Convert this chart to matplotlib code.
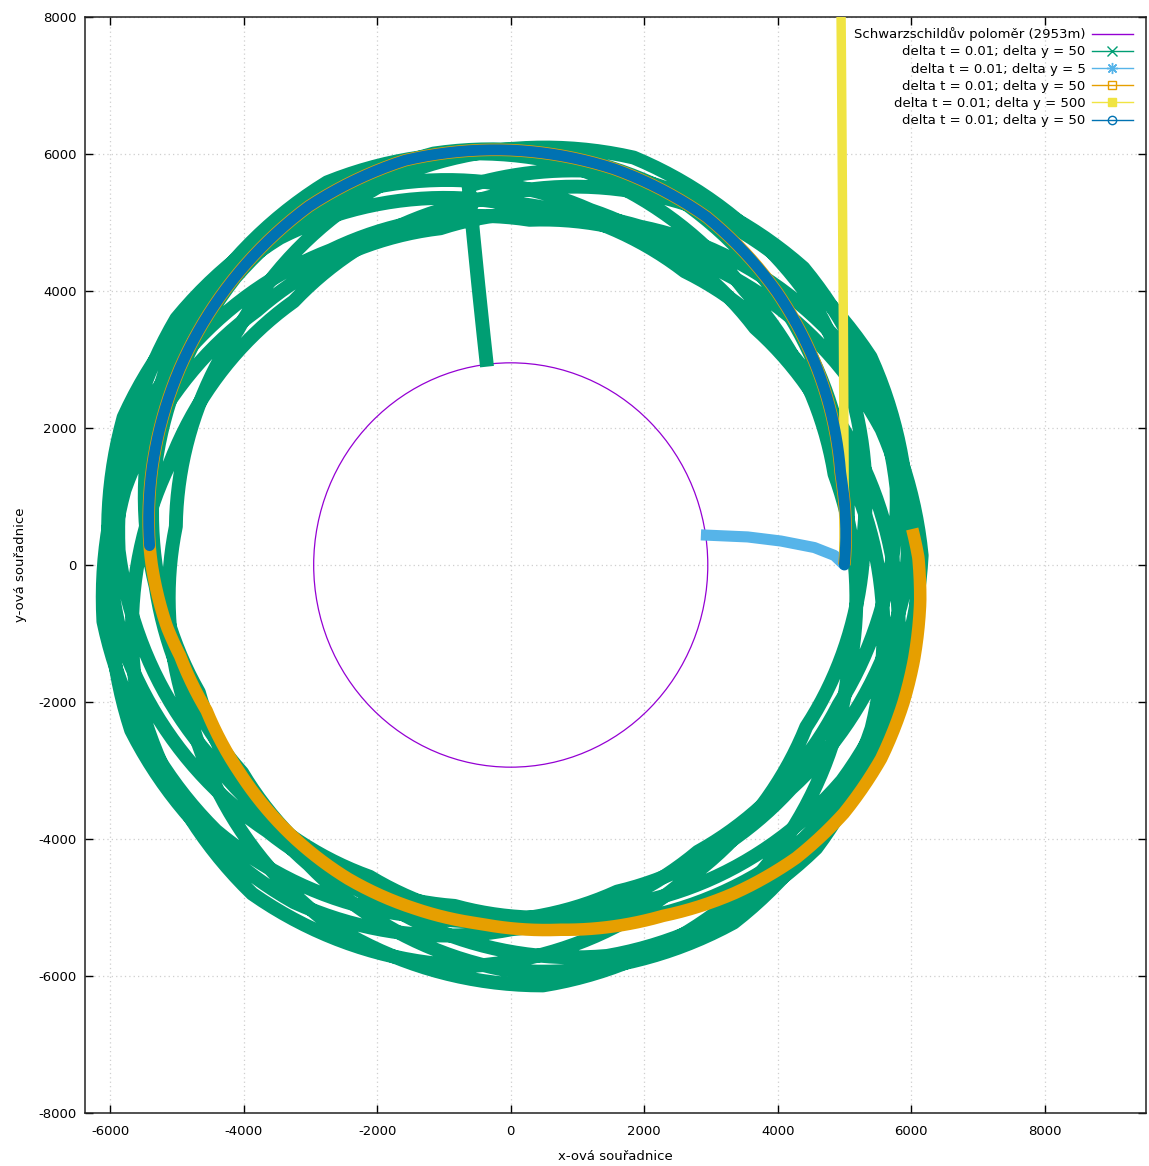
import numpy as np
import matplotlib.pyplot as plt
from matplotlib.patches import Circle, PathPatch
from matplotlib.path import Path
from matplotlib.lines import Line2D
from matplotlib.projections.polar import PolarAxes

# Schwarzschild radius [m]
r_s = 2953

# long run (delta y = 50): turning points and midpoints of the orbit,
# angle [deg, cumulative] and radius [m]; last two points = fall into the hole
green_angle = [0, 33.6, 67.2, 100.9, 134.5, 168.1, 201.7, 235.3, 268.9, 302.6, 336.2,
               369.8, 403.4, 437.0, 470.6, 504.3, 537.9, 571.5, 605.1, 638.7, 672.3,
               706.0, 739.6, 773.2, 806.8, 840.4, 874.0, 907.7, 941.3, 974.9, 1008.5,
               1042.1, 1075.7, 1109.4, 1143.0, 1176.6, 1210.2, 1243.8, 1277.4, 1311.1,
               1344.7, 1378.3, 1411.9, 1445.5, 1479.1, 1512.8, 1546.4, 1580.0, 1613.6,
               1647.2, 1680.8, 1714.5, 1748.1, 1781.7, 1815.3, 1848.9, 1882.5, 1916.2,
               1949.8, 1983.4, 2017.0, 2050.6, 2084.2, 2117.9, 2151.5, 2185.1, 2218.7,
               2252.3, 2285.9, 2319.6, 2353.2, 2386.8, 2420.4, 2454.0, 2487.6, 2521.3,
               2554.9, 2588.5, 2622.1, 2655.7, 2689.3, 2723.0, 2756.6, 2790.2, 2823.8,
               2857.4, 2891.0, 2924.7, 2958.3, 2976.5, 2977.0]
green_r = [5000, 5430, 5950, 6120, 5890, 5480,
           5030, 5320, 5910, 6200, 5910, 5330,
           5040, 5320, 5890, 6170, 5880, 5310,
           5020, 5310, 5890, 6180, 5900, 5330,
           5050, 5330, 5880, 6160, 5880, 5310,
           5030, 5320, 5900, 6190, 5900, 5330,
           5040, 5320, 5890, 6170, 5880, 5310,
           5020, 5320, 5920, 6230, 5930, 5340,
           5050, 5330, 5880, 6160, 5880, 5310,
           5030, 5330, 5920, 6230, 5930, 5330,
           5040, 5320, 5890, 6170, 5880, 5310,
           5020, 5310, 5900, 6190, 5900, 5330,
           5050, 5330, 5880, 6160, 5880, 5310,
           5030, 5320, 5890, 6180, 5900, 5320,
           5040, 5320, 5890, 6170, 5880,
           5576, 2919]

# delta y = 5 (x, y)
lblue_x = [5000, 4850, 4550, 4050, 3550, 2850]
lblue_y = [0, 140, 255, 350, 410, 440]

# delta y = 50, one revolution (angle deg, radius m)
orange_angle = [0, 15, 30, 45, 60, 75, 90, 105, 120, 135, 150, 165, 177, 180, 190, 195,
                205, 217, 231, 242, 254, 265, 278, 294, 305, 315, 324, 333, 341, 347,
                355, 361, 365]
orange_r = [5000, 5120, 5380, 5640, 5870, 5990, 6060, 6120, 6050, 5890, 5730, 5560, 5420,
            5380, 5230, 5130, 5030, 5070, 5140, 5190, 5220, 5260, 5380, 5610, 5850, 6050,
            6170, 6230, 6220, 6200, 6160, 6110, 6040]

# delta y = 500 (x, y) - escapes upward
yellow_x = [5000, 4995, 4985, 4970, 4955, 4945]
yellow_y = [0, 1500, 3500, 5500, 7500, 8600]

# delta y = 50, half revolution (angle deg, radius m)
blue_angle = [0, 15, 30, 45, 60, 75, 90, 105, 120, 135, 150, 165, 177]
blue_r = [5000, 5120, 5380, 5640, 5870, 5990, 6060, 6120, 6050, 5890, 5730, 5560, 5420]

labels = ['Schwarzschildův poloměr (2953m)',
          'delta t = 0.01; delta y = 50',
          'delta t = 0.01; delta y = 5',
          'delta t = 0.01; delta y = 50',
          'delta t = 0.01; delta y = 500',
          'delta t = 0.01; delta y = 50']

c_purple = '#9400d3'
c_green = '#009e73'
c_lblue = '#56b4e9'
c_orange = '#e69f00'
c_yellow = '#f0e442'
c_blue = '#0072b2'

plt.rcParams['font.family'] = 'DejaVu Sans'
plt.rcParams['font.size'] = 9.5
plt.rcParams['axes.unicode_minus'] = False

fig = plt.figure(figsize=(11.49, 11.66), dpi=100)
ax = fig.add_axes([85 / 1149, 1 - 1112.7 / 1166, (1146 - 85) / 1149, (1112.7 - 17.3) / 1166])

# orbits given in (angle, r) are drawn through matplotlib's polar transform,
# so the segments between samples follow arcs
try:
    polar_tr = PolarAxes.PolarTransform(apply_theta_transforms=False)
except TypeError:
    polar_tr = PolarAxes.PolarTransform()
tr = polar_tr + ax.transData


def orbit(angle, r, color, lw, z, cap='butt'):
    verts = np.column_stack([np.deg2rad(angle), r])
    p = PathPatch(Path(verts, _interpolation_steps=40), transform=tr, fill=False,
                  edgecolor=color, lw=lw, capstyle=cap, joinstyle='round', zorder=z)
    ax.add_patch(p)


ax.add_patch(Circle((0, 0), r_s, fill=False, color=c_purple, lw=0.9, zorder=2))
orbit(green_angle, green_r, c_green, 10, 3)
ax.plot(lblue_x, lblue_y, color=c_lblue, lw=8, solid_capstyle='butt', zorder=4)
orbit(orange_angle, orange_r, c_orange, 9, 5)
ax.plot(yellow_x, yellow_y, color=c_yellow, lw=6.8, solid_capstyle='butt', zorder=6)
orbit(blue_angle, blue_r, c_blue, 7.9, 7, cap='round')

ax.set_xlim(-6380, 9520)
ax.set_ylim(-8000, 8000)
ax.set_xticks(np.arange(-6000, 8001, 2000))
ax.set_yticks(np.arange(-8000, 8001, 2000))
ax.tick_params(axis='both', direction='in', length=6, width=1, top=True, right=True,
               colors='black', labelsize=9.5)
ax.tick_params(axis='x', pad=8.5)
ax.tick_params(axis='y', pad=6)
for s in ax.spines.values():
    s.set_linewidth(1.1)
    s.set_color('#222222')
ax.grid(True, color='#cfcfcf', linestyle=(0, (1, 2.5)), linewidth=0.9)
ax.set_axisbelow(True)

ax.set_xlabel('x-ová souřadnice', labelpad=9)
ax.set_ylabel('y-ová souřadnice', labelpad=8)

handles = [
    Line2D([], [], color=c_purple, lw=1),
    Line2D([], [], color=c_green, lw=1, marker='x', ms=7, mew=1),
    Line2D([], [], color=c_lblue, lw=1, marker=(8, 2, 0), ms=8, mew=1),
    Line2D([], [], color=c_orange, lw=1, marker='s', ms=6, mfc='none', mew=1),
    Line2D([], [], color=c_yellow, lw=1, marker='s', ms=6),
    Line2D([], [], color=c_blue, lw=1, marker='o', ms=6, mfc='none', mew=1),
]
leg = ax.legend(handles, labels, loc='upper right', bbox_to_anchor=(0.9877, 0.991),
                frameon=False, markerfirst=False, handlelength=3.1, handletextpad=0.5,
                labelspacing=0.32, borderaxespad=0, borderpad=0, fontsize=9.5)

fig.savefig('out.png', dpi=100)
